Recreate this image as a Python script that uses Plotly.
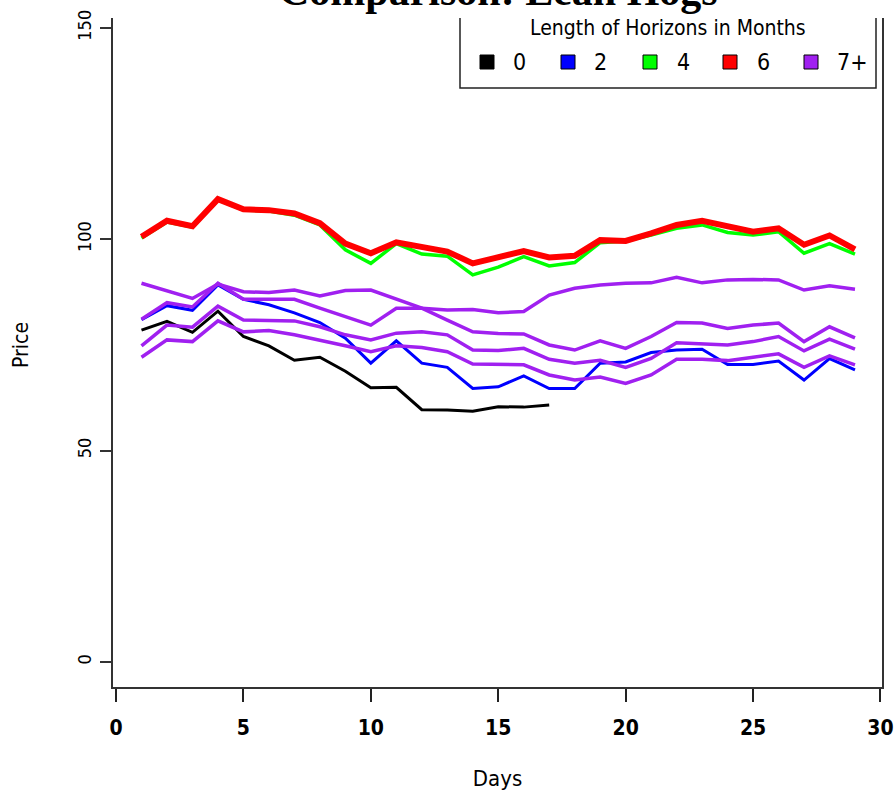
import plotly.graph_objects as go

# ---------------- data ----------------
days = list(range(1, 30))
days_h0 = list(range(1, 18))

h0 = [78.5, 80.6, 78.0, 83.0, 77.0, 74.8, 71.4, 72.1, 68.8, 64.9, 65.0, 59.7, 59.6, 59.3, 60.4, 60.3, 60.8]
h2 = [81.0, 84.3, 83.2, 89.2, 85.8, 84.5, 82.6, 80.3, 76.6, 70.7, 76.0, 70.7, 69.7, 64.7, 65.1, 67.7, 64.7,
      64.7, 70.7, 71.0, 73.2, 73.8, 74.0, 70.4, 70.4, 71.2, 66.7, 71.8, 69.1]
h4 = [100.3, 104.1, 102.9, 109.3, 106.9, 106.7, 105.7, 103.4, 97.5, 94.3, 99.0, 96.5, 96.0, 91.6, 93.4, 95.9,
      93.7, 94.5, 99.2, 99.6, 101.0, 102.6, 103.4, 101.6, 101.0, 101.8, 96.7, 99.0, 96.5]
h6 = [100.6, 104.4, 103.1, 109.5, 107.1, 106.9, 106.1, 103.8, 99.0, 96.7, 99.3, 98.2, 97.1, 94.3, 95.7, 97.2,
      95.7, 96.1, 99.8, 99.6, 101.4, 103.4, 104.4, 103.0, 101.8, 102.6, 98.7, 100.9, 97.6]
h7a = [89.6, 87.9, 86.0, 89.4, 87.6, 87.4, 88.0, 86.6, 87.9, 88.0, 85.8, 83.7, 80.9, 78.1, 77.7, 77.6, 75.0,
       73.8, 76.0, 74.2, 77.0, 80.3, 80.2, 78.9, 79.7, 80.2, 75.8, 79.3, 76.7]
h7b = [81.1, 85.0, 84.0, 89.6, 85.8, 85.8, 85.8, 83.7, 81.7, 79.7, 83.7, 83.7, 83.3, 83.4, 82.6, 82.9, 86.8,
       88.4, 89.2, 89.6, 89.7, 91.0, 89.7, 90.4, 90.5, 90.4, 88.0, 89.0, 88.2]
h7c = [74.8, 79.7, 79.2, 84.2, 80.9, 80.9, 80.7, 79.3, 77.4, 76.2, 77.8, 78.1, 77.4, 73.8, 73.7, 74.2, 71.6,
       70.7, 71.4, 69.7, 71.8, 75.5, 75.2, 75.0, 75.8, 77.0, 73.6, 76.4, 74.0]
h7d = [72.1, 76.2, 75.8, 80.7, 78.1, 78.4, 77.4, 76.2, 74.8, 73.4, 74.8, 74.4, 73.4, 70.5, 70.3, 70.3, 67.9,
       66.7, 67.4, 65.9, 67.9, 71.6, 71.6, 71.3, 72.1, 72.9, 69.7, 72.4, 70.3]

legend_labels = ["0", "2", "4", "6", "7+"]
legend_colors = ["#000000", "#0000FF", "#00FF00", "#FF0000", "#A020F0"]
x_ticks = [0, 5, 10, 15, 20, 25, 30]
y_ticks = [0, 50, 100, 150]

title_text = "Comparison: Lean Hogs"
legend_title = "Length of Horizons in Months"

# ---------------- layout geometry ----------------
W, H = 896, 797
L, R, T, B = 113, 14, 3, 110
PW, PH = W - L - R, H - T - B


def fx(px):
    return (px - L) / PW


def fy(py):
    return (H - B - py) / PH


NARROW = "Liberation Sans Narrow, DejaVu Sans Condensed, Liberation Sans, Arial"
PURPLE = "#A020F0"

fig = go.Figure()
fig.add_trace(go.Scatter(x=days_h0, y=h0, mode="lines", line=dict(color="#000000", width=3), showlegend=False))
fig.add_trace(go.Scatter(x=days, y=h2, mode="lines", line=dict(color="#0000FF", width=3), showlegend=False))
fig.add_trace(go.Scatter(x=days, y=h4, mode="lines", line=dict(color="#00FF00", width=3.5), showlegend=False))
fig.add_trace(go.Scatter(x=days, y=h6, mode="lines", line=dict(color="#FF0000", width=6), showlegend=False))
for ser in (h7a, h7b, h7c, h7d):
    fig.add_trace(go.Scatter(x=days, y=ser, mode="lines", line=dict(color=PURPLE, width=3.5), showlegend=False))

shapes = []
# legend box (white background, top hidden)
shapes.append(dict(type="rect", xref="paper", yref="paper", x0=fx(460), x1=fx(876), y0=fy(88), y1=fy(-20),
                   fillcolor="white", line=dict(color="#222", width=1.5), layer="above"))
# white band over top edge
shapes.append(dict(type="rect", xref="paper", yref="paper", x0=fx(106), x1=fx(892), y0=fy(18), y1=fy(-30),
                   fillcolor="white", line=dict(width=0), layer="above"))

annotations = []
annotations.append(dict(text=title_text, x=fx(498), y=fy(16), xref="paper", yref="paper", xanchor="center",
                        yanchor="bottom", showarrow=False,
                        font=dict(family="Liberation Serif, Times New Roman, serif", size=42, color="black",
                                  weight="bold")))
annotations.append(dict(text=legend_title, x=fx(668), y=fy(28), xref="paper", yref="paper", xanchor="center",
                        yanchor="middle", showarrow=False, font=dict(family=NARROW, size=21, color="black")))
sq_x = [487, 568, 650, 730, 811]
lab_x = [519, 600, 683, 763, 852]
for lab, col, sx, lx in zip(legend_labels, legend_colors, sq_x, lab_x):
    shapes.append(dict(type="rect", xref="paper", yref="paper", x0=fx(sx - 7), x1=fx(sx + 7), y0=fy(69), y1=fy(55),
                       fillcolor=col, line=dict(color="black", width=1), layer="above"))
    annotations.append(dict(text=lab, x=fx(lx), y=fy(62), xref="paper", yref="paper", xanchor="center",
                            yanchor="middle", showarrow=False, font=dict(family=NARROW, size=23, color="black")))

fig.update_layout(
    width=W, height=H, autosize=False,
    margin=dict(l=L, r=R, t=T, b=B, pad=0),
    paper_bgcolor="white", plot_bgcolor="white",
    shapes=shapes, annotations=annotations,
    xaxis=dict(range=[-0.118, 30.06], tickvals=x_ticks, ticktext=[str(v) for v in x_ticks],
               showgrid=False, zeroline=False, showline=True, mirror=True, linecolor="#333", linewidth=1.5,
               ticks="outside", ticklen=13, tickwidth=2, tickcolor="#222",
               tickfont=dict(family=NARROW, size=21, color="black", weight="bold"), ticklabelstandoff=8,
               title=dict(text="Days", font=dict(family=NARROW, size=22, color="black"), standoff=32),
               automargin=False),
    yaxis=dict(range=[-5.91, 155.9], tickvals=y_ticks, ticktext=[str(v) for v in y_ticks],
               showgrid=False, zeroline=False, showline=True, mirror=True, linecolor="#333", linewidth=1.5,
               ticks="outside", ticklen=11, tickwidth=1.5, tickcolor="#333", tickangle=-90,
               tickfont=dict(family=NARROW, size=18, color="black"), ticklabelstandoff=2,
               title=dict(text="Price", font=dict(family=NARROW, size=21, color="black"), standoff=40),
               automargin=False),
)

fig.write_html("out.html")
